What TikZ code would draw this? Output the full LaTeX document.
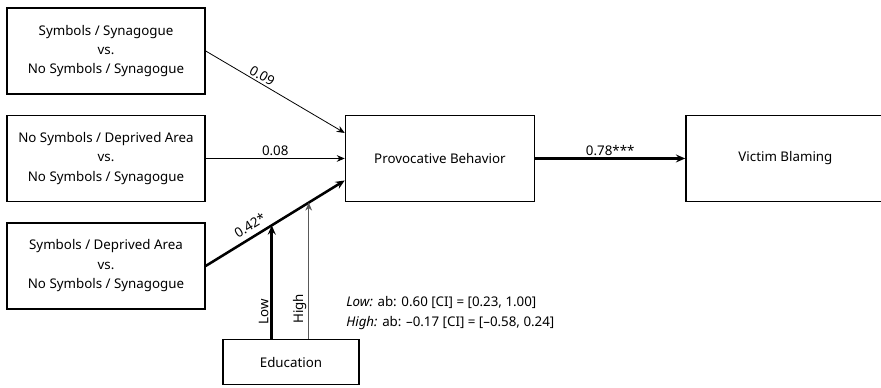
\documentclass[tikz,border=0pt]{standalone}
\usepackage{fontspec}
\setmainfont{Noto Sans}
\usetikzlibrary{arrows.meta,positioning}

\begin{document}
\begin{tikzpicture}[x=0.75pt,y=-0.75pt]
\tikzset{
    box/.style={
           draw,
           rectangle,
           line width=1.1pt,
           minimum width=148.5pt,
           minimum height=64.5pt,
           inner sep=0pt,
           align=center,
           font=\fontsize{10}{14.6}\selectfont},
    lab/.style={
           font=\fontsize{10}{12}\selectfont,
           inner sep=1.5pt},
    % Define arrow styles
    thinarrow/.style= {
           -{Stealth[length=6pt,width=5pt,inset=2pt]},
           line width=0.6pt
    },
    thickarrow/.style= {
           -{Stealth[length=7pt,width=6pt,inset=2.5pt]},
           line width=1.9pt
    }
}
\useasboundingbox (0,0) rectangle (881,387);
\node[box] (symsyn) at (106,51) {Symbols / Synagogue\\vs.\\No Symbols / Synagogue};
\node[box,below=15pt of symsyn] (nosymdep) {No Symbols / Deprived Area\\vs.\\No Symbols / Synagogue};
\node[box,below=15pt of nosymdep] (symdep) {Symbols / Deprived Area\\vs.\\No Symbols / Synagogue};
\node[box,minimum width=141.75pt,right=104.25pt of nosymdep] (provoc) {Provocative Behavior};
\node[box,minimum width=149.25pt,right=112.5pt of provoc] (victim) {Victim Blaming};
\node[box,minimum width=102pt,minimum height=33.75pt] (educ) at (291,362) {Education};
\node[lab,anchor=north west,align=left,inner sep=0pt,font=\fontsize{10}{15}\selectfont] (effects) at (346,296) {\textit{Low:} ab: 0.60 [CI] = [0.23, 1.00]\\\textit{High:} ab: \textendash0.17 [CI] = [\textendash0.58, 0.24]};
\draw[thinarrow](symsyn.east) -- node[lab,sloped,above,pos=0.38] {0.09} (provoc.165);
\draw[thinarrow](nosymdep.east) -- node[lab,above] {0.08} (provoc.west);
\draw[thickarrow](symdep.east) -- node[lab,sloped,above=2pt,pos=0.36] {0.42*} (provoc.193)
    coordinate[pos=0.475] (lowend) coordinate[pos=0.741] (highend);
\draw[thickarrow](provoc.east) -- node[lab,above] {0.78***} (victim.west);
\draw[thickarrow](educ.north -| lowend) -- node[lab,sloped,above,pos=0.24] {Low} (lowend);
\draw[thinarrow,black!65,line width=0.5pt](educ.north -| highend) -- node[lab,sloped,above,pos=0.22,black] {High} (highend);
\end{tikzpicture}
\end{document}
